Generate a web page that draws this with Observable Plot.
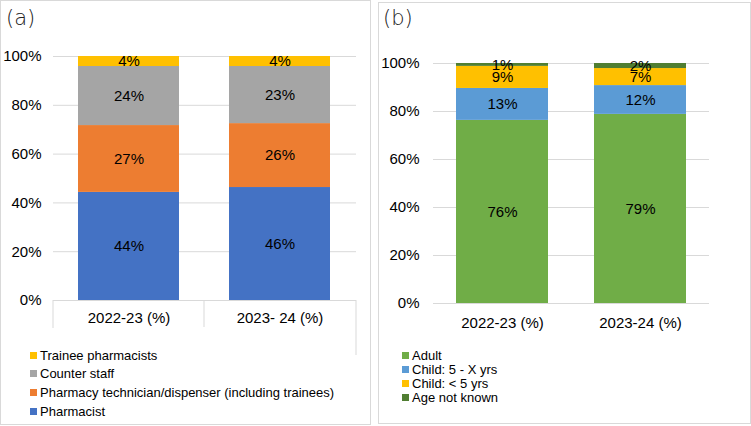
<!DOCTYPE html>
<html>
<head>
<meta charset="utf-8">
<script src="https://cdn.jsdelivr.net/npm/d3@7"></script>
<script src="https://cdn.jsdelivr.net/npm/@observablehq/plot@0.6"></script>
<style>
  html, body { margin: 0; padding: 0; background: #fff; }
  #root { position: relative; width: 751px; height: 426px; overflow: hidden; background: #fff;
          font-family: "Liberation Sans", Arial, sans-serif; color: #000; }
  .panel { position: absolute; border: 1px solid #d9d9d9; box-sizing: border-box; }
  .ttl { position: absolute; font-family: "DejaVu Sans", sans-serif; font-weight: 200; font-size: 21px; color: #222; line-height: 1; }
  .plot { position: absolute; top: 0; }
  .legend { position: absolute; font-size: 13px; line-height: 1; }
  .legend .it { position: absolute; white-space: nowrap; display: flex; align-items: center; }
  .legend .sw { display: inline-block; width: 7px; height: 7px; margin-right: 3px; }
</style>
</head>
<body>
<div id="root">
  <div class="panel" style="left:0;top:0;width:371px;height:425px"></div>
  <div class="panel" style="left:378px;top:2px;width:373px;height:422px"></div>
  <div class="ttl" style="left:6px;top:8px">(a)</div>
  <div class="ttl" style="left:383px;top:8px">(b)</div>
  <div id="plotA" class="plot" style="left:0"></div>
  <div id="plotB" class="plot" style="left:378px"></div>
  <div id="legA" class="legend"></div>
  <div id="legB" class="legend"></div>
</div>
<script>
// ---- Panel (a): staff roles ----
const yearsA = ["2022-23 (%)", "2023- 24 (%)"];
const rolesA = ["Pharmacist", "Pharmacy technician/dispenser (including trainees)", "Counter staff", "Trainee pharmacists"];
const pharmacist = [44.3, 46.3];
const technician = [27.4, 26.2];
const counterStaff = [24.2, 23.4];
const traineePharm = [4.1, 4.1];
const colorsA = ["#4472C4", "#ED7D31", "#A5A5A5", "#FFC000"];

// ---- Panel (b): age groups ----
const yearsB = ["2022-23 (%)", "2023-24 (%)"];
const groupsB = ["Adult", "Child: 5 - X yrs", "Child: < 5 yrs", "Age not known"];
const adult = [76.3, 78.8];
const child5X = [13.3, 12.0];
const childU5 = [9.2, 7.1];
const ageUnknown = [1.2, 2.1];
const colorsB = ["#70AD47", "#5B9BD5", "#FFC000", "#507E32"];

const yTicks = [0, 20, 40, 60, 80, 100];

function rows(years, series, values) {
  const out = [];
  years.forEach((yr, i) => series.forEach((s, j) => out.push({year: yr, series: s, value: values[j][i]})));
  return out;
}
const dataA = rows(yearsA, rolesA, [pharmacist, technician, counterStaff, traineePharm]);
const dataB = rows(yearsB, groupsB, [adult, child5X, childU5, ageUnknown]);

function chart(data, years, series, colors, o) {
  const marks = [
    Plot.ruleY(yTicks, {stroke: "#d9d9d9", strokeWidth: 1}),
    Plot.barY(data, Plot.stackY({x: "year", y: "value", fill: "series", order: series})),
    Plot.textY(data, Plot.stackY({x: "year", y: "value", z: "series", order: series,
      text: d => Math.round(d.value) + "%", fill: "#000", fontSize: 15})),
    Plot.axisY({ticks: yTicks, tickFormat: d => d + "%", tickSize: 0, tickPadding: o.yPad, fontSize: 15, label: null}),
    Plot.axisX({tickSize: 0, tickPadding: o.xPad, fontSize: 15, label: null})
  ];
  if (o.dividers) {
    marks.push((index, scales, values, dim) => {
      const x = scales.x;
      const y0 = dim.height - dim.marginBottom;
      const left = dim.marginLeft, right = dim.width - dim.marginRight;
      const mid = (x(years[0]) + x(years[1]) + x.bandwidth()) / 2;
      const g = d3.create("svg:g").attr("stroke", "#d9d9d9").attr("stroke-width", 1);
      g.append("line").attr("x1", left).attr("x2", left).attr("y1", y0).attr("y2", y0 + 28);
      g.append("line").attr("x1", mid).attr("x2", mid).attr("y1", y0).attr("y2", y0 + 27);
      g.append("line").attr("x1", right).attr("x2", right).attr("y1", y0).attr("y2", y0 + 55);
      return g.node();
    });
  }
  return Plot.plot({
    width: o.width, height: o.height,
    marginLeft: o.ml, marginRight: o.mr, marginTop: o.mt, marginBottom: o.mb,
    style: {fontFamily: "'Liberation Sans', Arial, sans-serif", fontSize: "15px", color: "#000", background: "transparent", overflow: "visible"},
    x: {domain: years, paddingInner: 0.33, paddingOuter: 0.165, axis: null},
    y: {domain: [0, 100], axis: null},
    color: {domain: series, range: colors},
    marks
  });
}

document.getElementById("plotA").append(chart(dataA, yearsA, rolesA, colorsA,
  {width: 370, height: 360, ml: 53, mr: 14, mt: 56, mb: 60, yPad: 12, xPad: 12, dividers: true}));
document.getElementById("plotB").append(chart(dataB, yearsB, groupsB, colorsB,
  {width: 372, height: 360, ml: 55, mr: 41, mt: 63, mb: 57, yPad: 14, xPad: 14, dividers: false}));

function legend(id, items, colors, x, ys) {
  const el = document.getElementById(id);
  items.forEach((t, i) => {
    const it = document.createElement("div");
    it.className = "it";
    it.style.left = x + "px";
    it.style.top = (ys[i] - 7) + "px";
    it.style.height = "14px";
    const sw = document.createElement("span");
    sw.className = "sw"; sw.style.background = colors[i];
    it.append(sw, document.createTextNode(t));
    el.append(it);
  });
}
legend("legA", [...rolesA].reverse(), [...colorsA].reverse(), 30, [355, 373, 392, 411]);
legend("legB", groupsB, colorsB, 402, [355, 369, 383, 397]);
</script>
</body>
</html>
